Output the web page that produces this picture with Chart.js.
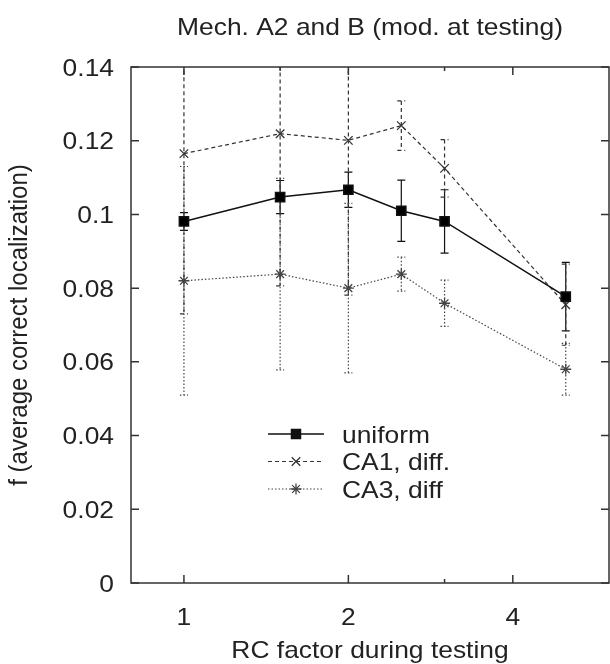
<!DOCTYPE html>
<html>
<head>
<meta charset="utf-8">
<script src="https://cdn.jsdelivr.net/npm/chart.js@4"></script>
<style>
html, body { margin: 0; padding: 0; background: #fff; overflow: hidden; }
canvas { display: block; }
</style>
</head>
<body>
<canvas id="chart" width="610" height="664"></canvas>
<script>
// values
const rcFactor = [1, 1.5, 2, 2.5, 3, 5];
const uniform = [0.0981, 0.1047, 0.1067, 0.1010, 0.0981, 0.0777];
const uniformErr = [0.0024, 0.0045, 0.0048, 0.0083, 0.0086, 0.0093];
const ca1 = [0.1165, 0.1219, 0.1201, 0.1241, 0.1125, 0.0755];
const ca1Err = [0.0435, 0.0413, 0.0420, 0.0067, 0.0078, 0.0110];
const ca3 = [0.0820, 0.0838, 0.0800, 0.0838, 0.0759, 0.0580];
const ca3Err = [0.0310, 0.0260, 0.0230, 0.0046, 0.0063, 0.0070];
const xTicks = [1, 2, 4];
const xMinorTop = [1.5, 3];
const xMinorBottom = [3];
const yTicks = [0, 0.02, 0.04, 0.06, 0.08, 0.1, 0.12, 0.14];

const FONT = '"Liberation Sans", Arial, Helvetica, sans-serif';
const FSIZE = 24;
const STRETCH = 1.1;   // text in the picture is a bit wider than normal

const errs = [uniformErr, ca1Err, ca3Err];

// text drawn slightly stretched sideways
function txt(ctx, s, x, y, align, rot) {
    ctx.save();
    ctx.translate(x, y);
    if (rot) { ctx.rotate(rot); ctx.scale(1, STRETCH); } else ctx.scale(STRETCH, 1);
    ctx.textAlign = align;
    ctx.fillText(s, 0, 0);
    ctx.restore();
}

const errorBars = {
    id: 'errorBars',
    beforeDatasetsDraw(chart) {
        const ctx = chart.ctx, xs = chart.scales.x, ys = chart.scales.y, a = chart.chartArea;
        ctx.save();
        ctx.beginPath();
        ctx.rect(a.left, a.top, a.right - a.left, a.bottom - a.top);
        ctx.clip();
        chart.data.datasets.forEach((ds, i) => {
            ctx.strokeStyle = ds.borderColor;
            ctx.lineWidth = 1.2;
            ctx.setLineDash(ds.borderDash || []);
            ds.data.forEach((p, j) => {
                const x = xs.getPixelForValue(p.x);
                const y1 = ys.getPixelForValue(p.y + errs[i][j]);
                const y2 = ys.getPixelForValue(p.y - errs[i][j]);
                ctx.beginPath();
                ctx.moveTo(x, y1); ctx.lineTo(x, y2);
                ctx.moveTo(x - 4, y1); ctx.lineTo(x + 4, y1);
                ctx.moveTo(x - 4, y2); ctx.lineTo(x + 4, y2);
                ctx.stroke();
            });
        });
        ctx.restore();
    }
};

const frame = {
    id: 'frame',
    afterDraw(chart) {
        const ctx = chart.ctx, xs = chart.scales.x, ys = chart.scales.y, a = chart.chartArea;
        ctx.save();
        ctx.strokeStyle = '#333';
        ctx.lineWidth = 1.5;
        ctx.setLineDash([]);
        ctx.strokeRect(a.left, a.top, a.right - a.left, a.bottom - a.top);
        ctx.beginPath();
        yTicks.forEach(v => {
            const y = ys.getPixelForValue(v);
            ctx.moveTo(a.left, y); ctx.lineTo(a.left + 8, y);
            ctx.moveTo(a.right, y); ctx.lineTo(a.right - 8, y);
        });
        xTicks.forEach(v => {
            const x = xs.getPixelForValue(v);
            ctx.moveTo(x, a.bottom); ctx.lineTo(x, a.bottom - 8);
            ctx.moveTo(x, a.top); ctx.lineTo(x, a.top + 8);
        });
        xMinorTop.forEach(v => {
            const x = xs.getPixelForValue(v);
            ctx.moveTo(x, a.top); ctx.lineTo(x, a.top + 4);
        });
        xMinorBottom.forEach(v => {
            const x = xs.getPixelForValue(v);
            ctx.moveTo(x, a.bottom); ctx.lineTo(x, a.bottom - 4);
        });
        ctx.stroke();

        ctx.fillStyle = '#222';
        ctx.font = FSIZE + 'px ' + FONT;
        ctx.textBaseline = 'alphabetic';
        // tick labels
        yTicks.forEach(v => {
            txt(ctx, String(Number(v.toFixed(2))), a.left - 17, ys.getPixelForValue(v) + 8.5, 'right');
        });
        xTicks.forEach(v => {
            txt(ctx, String(v), xs.getPixelForValue(v), 625, 'center');
        });
        // titles
        txt(ctx, 'Mech. A2 and B (mod. at testing)', (a.left + a.right) / 2, 35, 'center');
        txt(ctx, 'RC factor during testing', (a.left + a.right) / 2, 658, 'center');
        txt(ctx, 'f (average correct localization)', 27, (a.top + a.bottom) / 2, 'center', -Math.PI / 2);

        // legend
        chart.data.datasets.forEach((ds, i) => {
            const y = 434 + i * 27.5;
            ctx.strokeStyle = ds.borderColor;
            ctx.fillStyle = ds.borderColor;
            ctx.lineWidth = ds.borderWidth;
            ctx.setLineDash(ds.borderDash || []);
            ctx.beginPath();
            ctx.moveTo(268, y); ctx.lineTo(324, y);
            ctx.stroke();
            ctx.setLineDash([]);
            ctx.lineWidth = 1.3;
            Chart.helpers.drawPoint(ctx, {pointStyle: ds.pointStyle, radius: ds.pointRadius, rotation: 0, borderWidth: 1.3}, 296, y);
            ctx.fillStyle = '#222';
            txt(ctx, ds.label, 342, y + 8.5, 'left');
        });
        ctx.restore();
    }
};

const toPts = arr => arr.map((v, i) => ({x: rcFactor[i], y: v}));

new Chart(document.getElementById('chart'), {
    type: 'line',
    data: {
        datasets: [
            {label: 'uniform', data: toPts(uniform), borderColor: '#111', backgroundColor: '#111',
             borderWidth: 1.5, pointStyle: 'rect', pointRadius: 6.5, pointBackgroundColor: '#000'},
            {label: 'CA1, diff.', data: toPts(ca1), borderColor: '#333', backgroundColor: '#333',
             borderWidth: 1.2, borderDash: [4, 3], pointStyle: 'crossRot', pointRadius: 6, pointBorderWidth: 1.3},
            {label: 'CA3, diff', data: toPts(ca3), borderColor: '#444', backgroundColor: '#444',
             borderWidth: 1.2, borderDash: [1.5, 2], pointStyle: 'star', pointRadius: 5.5, pointBorderWidth: 1.3}
        ]
    },
    options: {
        responsive: false,
        animation: false,
        layout: {autoPadding: false, padding: {top: 67, right: 1, left: 0, bottom: 0}},
        plugins: {legend: {display: false}, tooltip: {enabled: false}, title: {display: false}},
        scales: {
            x: {
                type: 'logarithmic',
                min: 0.8, max: 6,
                afterBuildTicks: s => { s.ticks = xTicks.map(v => ({value: v})); },
                afterFit: s => { s.height = 81; s.paddingLeft = 0; s.paddingRight = 0; },
                grid: {display: false, drawTicks: false},
                border: {display: false},
                ticks: {display: false}
            },
            y: {
                min: 0, max: 0.14,
                afterBuildTicks: s => { s.ticks = yTicks.map(v => ({value: v})); },
                afterFit: s => { s.width = 131; s.paddingTop = 0; s.paddingBottom = 0; },
                grid: {display: false, drawTicks: false},
                border: {display: false},
                ticks: {display: false}
            }
        }
    },
    plugins: [errorBars, frame]
});
</script>
</body>
</html>
